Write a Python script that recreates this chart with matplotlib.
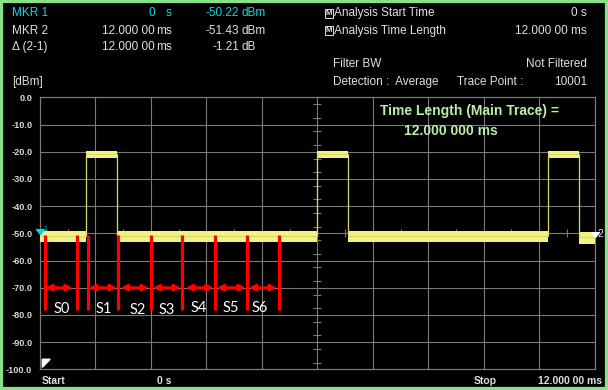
import numpy as np
import matplotlib
matplotlib.use('Agg')
import matplotlib.pyplot as plt
from matplotlib.patches import Rectangle

plt.rcParams['font.family'] = ['Liberation Sans', 'DejaVu Sans']

# trace: burst edges (ms) and level of each segment (dBm)
seg_edges_ms = [0.0, 1.0, 1.667, 6.0, 6.667, 11.0, 11.667, 12.0]
seg_level = [-51.0, -20.8, -51.0, -20.8, -51.0, -20.8, -51.3]
seg_top = [-49.3, -19.6, -49.3, -19.6, -49.3, -19.6, -49.6]
seg_bottom = [-53.2, -22.3, -53.2, -22.3, -53.2, -22.3, -53.8]

# symbol boundaries (red bars) and arrows
sym_lines_ms = [0.115, 0.793, 1.03, 1.693, 2.393, 3.077, 3.79, 4.48, 5.16]
arrow_start_ms = [0.115, 1.059, 1.745, 2.443, 3.157, 3.827, 4.519]
arrow_end_ms = [0.707, 1.665, 2.357, 3.049, 3.762, 4.454, 5.124]
sym_names = ['S0', 'S1', 'S2', 'S3', 'S4', 'S5', 'S6']
sym_label_ms = [0.469, 1.369, 2.125, 2.752, 3.438, 4.13, 4.757]
sym_label_db = [-78.0, -78.0, -78.3, -78.3, -77.4, -77.4, -77.4]

mkr_time_ms = [0.0, 12.0]
mkr_level = [-50.22, -51.43]

yticks = [0, -10, -20, -30, -40, -50, -60, -70, -80, -90, -100]

W, H = 608, 390
fig = plt.figure(figsize=(W / 100, H / 100), dpi=100, facecolor='black')
ax = fig.add_axes([40 / W, 1 - 369.3 / H, 554.7 / W, 272 / H], facecolor='black')
ax.set_xlim(0, 12)
ax.set_ylim(-100, 0)

grid_c = '#7a7a7a'
for x in np.arange(1.2, 12, 1.2):
    ax.axvline(x, color=grid_c, lw=0.8, zorder=1)
for y in yticks[1:-1]:
    ax.axhline(y, color=grid_c, lw=0.8, zorder=1)
for s in ax.spines.values():
    s.set_color(grid_c)
    s.set_linewidth(0.9)

# small ticks on the centre lines
ax.plot(np.full(20, 6.0), np.arange(-2.5, -100, -5), ls='none', marker='_',
        ms=6, mew=0.8, color=grid_c, zorder=1)
ax.plot(np.arange(0.6, 12, 1.2), np.full(10, -50.0), ls='none', marker='|',
        ms=6, mew=0.8, color=grid_c, zorder=1)

ax.set_xticks([])
ax.set_yticks(yticks)
ax.set_yticklabels(['%.1f' % v for v in yticks], fontsize=6.6, fontweight='bold',
                   color='#d8d8d8')
ax.tick_params(axis='y', length=0, pad=5.5)

# trace
for i in range(len(seg_level)):
    xs = [seg_edges_ms[i], seg_edges_ms[i + 1]]
    ax.fill_between(xs, seg_bottom[i], seg_top[i], color='#f2f27c', lw=0, zorder=3)
ax.stairs(seg_level, seg_edges_ms, color='#d8d870', lw=0.9, baseline=None, zorder=3)

# symbol bars and arrows
ax.vlines(sym_lines_ms, -78.2, -50.6, color='#ff0000', lw=2.3, zorder=4)
for a, b in zip(arrow_start_ms, arrow_end_ms):
    ax.annotate('', xy=(b, -70), xytext=(a, -70),
                arrowprops=dict(arrowstyle='<|-|>', color='#ff0000', lw=2,
                                mutation_scale=9, shrinkA=0, shrinkB=0), zorder=4)
for name, x, y in zip(sym_names, sym_label_ms, sym_label_db):
    ax.text(x, y, name, color='white', fontsize=10.5, family=['Lato', 'DejaVu Sans'],
            ha='center', va='center', zorder=5)

# markers
tri = [(0, 0), (-1, 1.25), (1, 1.25), (0, 0)]
ax.plot(mkr_time_ms[0], mkr_level[0], marker=tri, ms=7, color='#10d0e0',
        clip_on=False, zorder=6)
ax.text(0.08, -48.6, '1', color='#10d0e0', fontsize=5, ha='left', va='center')
ax.plot(mkr_time_ms[1], mkr_level[1], marker=tri, ms=7, color='white',
        clip_on=False, zorder=6)
ax.text(12.07, -50.4, '2', color='#e8e8e8', fontsize=7.5, ha='left', va='center',
        clip_on=False, zorder=7)

# corner indicator
ax.fill([0.05, 0.22, 0.05], [-96.3, -96.3, -99.3], color='white', zorder=5)

ax.text(9.3, -5.0, 'Time Length (Main Trace) =', color='#b8f0a8', fontsize=10,
        fontweight='bold', ha='center', va='center')
ax.text(8.89, -12.3, '12.000 000 ms', color='#b8f0a8', fontsize=10,
        fontweight='bold', ha='center', va='center')

# header
def ftext(x, y, s, color='#e0e0e0', ha='left', size=8.5, **kw):
    fig.text(x / W, 1 - y / H, s, color=color, ha=ha, va='center', fontsize=size, **kw)

cyan = '#10d8e8'
ftext(12, 12.7, 'MKR 1', cyan)
ftext(155, 12.7, '0', cyan, ha='right')
ftext(172, 12.7, 's', cyan, ha='right')
ftext(239, 12.7, '%.2f' % mkr_level[0], cyan, ha='right')
ftext(242, 12.7, 'dBm', cyan)

ftext(12, 30.7, 'MKR 2')
ftext(155, 30.7, '12.000 00', ha='right')
ftext(172, 30.7, 'ms', ha='right')
ftext(239, 30.7, '%.2f' % mkr_level[1], ha='right')
ftext(242, 30.7, 'dBm')

ftext(12, 47.3, '\u0394 (2-1)')
ftext(155, 47.3, '12.000 00', ha='right')
ftext(172, 47.3, 'ms', ha='right')
ftext(239, 47.3, '%.2f' % (mkr_level[1] - mkr_level[0]), ha='right')
ftext(242, 47.3, 'dB')

ftext(12, 81.7, '[dBm]')

box = dict(boxstyle='square,pad=0.1', fc='none', ec='#e0e0e0', lw=0.7)
ftext(325.5, 13.3, 'M', size=5.5, fontweight='bold', bbox=box)
ftext(334, 13.3, 'Analysis Start Time')
ftext(587, 13.3, '0 s', ha='right')
ftext(325.5, 30.7, 'M', size=5.5, fontweight='bold', bbox=box)
ftext(334, 30.7, 'Analysis Time Length')
ftext(587, 30.7, '12.000 00 ms', ha='right')
ftext(333, 64, 'Filter BW')
ftext(587, 64, 'Not Filtered', ha='right')
ftext(333, 81.7, 'Detection :  Average')
ftext(457, 81.7, 'Trace Point :')
ftext(587, 81.7, '10001', ha='right')

ftext(42, 381.5, 'Start', size=7.5, fontweight='bold')
ftext(157, 381.5, '0 s', size=7.5, fontweight='bold')
ftext(474, 381.5, 'Stop', size=7.5, fontweight='bold')
ftext(602, 381.5, '12.000 00 ms', ha='right', size=7.5, fontweight='bold')

# green frame of the screen
fig.patches.append(Rectangle((0, 0), 1, 1, transform=fig.transFigure, fill=False,
                             ec='#88e088', lw=4.5, zorder=10))

fig.savefig('out.png', dpi=100, facecolor='black')
